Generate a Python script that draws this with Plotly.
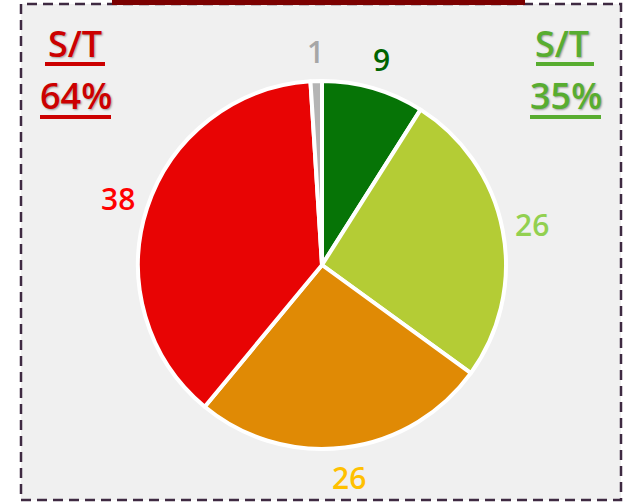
import math
import plotly.graph_objects as go

labels = ["Vert foncé", "Vert clair", "Orange", "Rouge", "Gris"]
values = [9, 26, 26, 38, 1]
colors = ["#067406", "#b4cc35", "#e08a05", "#e80404", "#b4b4b4"]
text_colors = ["#006400", "#92d050", "#ffc000", "#ff0000", "#a6a6a6"]

red_share = values[2] + values[3]
green_share = values[0] + values[1]

W, H = 625, 502
cx, cy, r = 322, 265, 184
label_dist = 214

fig = go.Figure()
fig.add_trace(go.Pie(
    labels=labels,
    values=values,
    sort=False,
    direction="clockwise",
    rotation=0,
    marker=dict(colors=colors, line=dict(color="white", width=4)),
    textinfo="none",
    domain=dict(x=[(cx - r) / W, (cx + r) / W], y=[(H - cy - r) / H, (H - cy + r) / H]),
    showlegend=False,
    hoverinfo="label+value",
))

shapes = [
    dict(type="rect", xref="paper", yref="paper", x0=21 / W, x1=621 / W, y0=1 - 500 / H, y1=1 - 4 / H,
         fillcolor="#f0f0f0", line=dict(color="#3f2a42", width=2.5, dash="10px,6px"), layer="below"),
    dict(type="rect", xref="paper", yref="paper", x0=112 / W, x1=525 / W, y0=1 - 5 / H, y1=1.0,
         fillcolor="#7b0000", line=dict(width=0), layer="below"),
]

def underline(x0, x1, y, color):
    shapes.append(dict(type="line", xref="paper", yref="paper", x0=x0 / W, x1=x1 / W,
                       y0=1 - y / H, y1=1 - y / H, line=dict(color=color, width=4)))

annots = []
def txt(s, x, y, color, size=36, weight=600, shadow="1px 1px 2px rgba(0,0,0,0.35)"):
    annots.append(dict(text=s, x=x / W, y=1 - y / H, xref="paper", yref="paper", showarrow=False,
                       xanchor="center", yanchor="middle",
                       font=dict(size=size, color=color, family="Open Sans", weight=weight,
                                 shadow=shadow)))

# slice value labels placed around the pie from the cumulative values
total = sum(values)
cum = 0
for v, c in zip(values, text_colors):
    mid = (cum + v / 2) / total
    cum += v
    th = 2 * math.pi * mid
    lx = cx + label_dist * math.sin(th)
    ly = cy - label_dist * math.cos(th)
    txt(str(v), lx, ly, c, size=30, weight=600, shadow="none")

red = "#cc0000"
green = "#58ad30"
txt("S/T", 75, 43, red)
txt(f"{red_share}%", 76, 95, red)
underline(45, 105, 64, red)
underline(40, 111, 117, red)
txt("S/T", 562, 43, green)
txt(f"{green_share}%", 566, 95, green)
underline(536, 594, 64, green)
underline(530, 601, 117, green)

fig.update_layout(
    width=W, height=H,
    margin=dict(l=0, r=0, t=0, b=0),
    paper_bgcolor="white",
    plot_bgcolor="white",
    shapes=shapes,
    annotations=annots,
)

fig.write_html("out.html", config={"displayModeBar": False},
               post_script="document.body.style.margin='0';document.body.style.overflow='hidden';")
